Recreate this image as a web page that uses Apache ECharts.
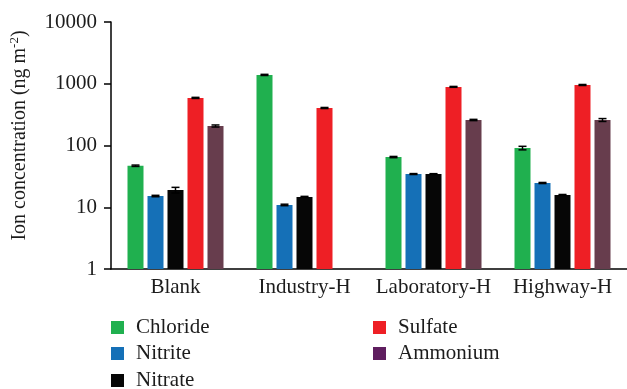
<!DOCTYPE html>
<html>
<head>
<meta charset="utf-8">
<script src="https://cdn.jsdelivr.net/npm/echarts@6/dist/echarts.min.js"></script>
<style>
  html, body { margin: 0; padding: 0; background: #fff; }
  #chart { width: 627px; height: 389px; }
</style>
</head>
<body>
<div id="chart"></div>
<script>
// Sampling sites
const categories = ['Blank', 'Industry-H', 'Laboratory-H', 'Highway-H'];

// Mean ion concentrations (ng m-2) per site; '-' = not detected
const chloride = [47, 1390, 65, 91];
const nitrite  = [15.2, 10.9, 34.5, 24.7];
const nitrate  = [19.0, 14.7, 34.5, 15.8];
const sulfate  = [590, 405, 890, 955];
const ammonium = [207, '-', 259, 259];

// Standard deviations for the error bars
const chlorideErr = [1.2, 30, 1.5, 6];
const nitriteErr  = [0.4, 0.3, 0.6, 0.5];
const nitrateErr  = [2.0, 0.3, 0.5, 0.3];
const sulfateErr  = [12, 8, 15, 18];
const ammoniumErr = [8, 0, 6, 14];

const yTicks = [1, 10, 100, 1000, 10000];

const seriesDefs = [
  { name: 'Chloride', data: chloride, err: chlorideErr, color: '#20B04F' },
  { name: 'Nitrite',  data: nitrite,  err: nitriteErr,  color: '#1570B7' },
  { name: 'Nitrate',  data: nitrate,  err: nitrateErr,  color: '#060606' },
  { name: 'Sulfate',  data: sulfate,  err: sulfateErr,  color: '#EE1F25' },
  { name: 'Ammonium', data: ammonium, err: ammoniumErr, color: '#673D4D' }
];

const BAR_W = 16;
const BAR_STEP = 20;
const serif = '"Liberation Serif", "DejaVu Serif", serif';
const FS = 21;
const TEXT = '#1c1c1c';

const chart = echarts.init(document.getElementById('chart'), null, { renderer: 'canvas' });

const series = [];
seriesDefs.forEach((s) => {
  series.push({
    name: s.name,
    type: 'bar',
    data: s.data,
    barWidth: BAR_W,
    barGap: '25%',
    itemStyle: { color: s.color },
    z: 2
  });
});
// error bars drawn over each bar
seriesDefs.forEach((s, i) => {
  const errData = s.data.map((v, k) => v === '-' ? null : [k, v, s.err[k]]).filter(d => d);
  series.push({
    name: s.name + ' SD',
    type: 'custom',
    z: 5,
    silent: true,
    data: errData,
    renderItem: function (params, api) {
      const k = api.value(0), v = api.value(1), e = api.value(2);
      const c = api.coord([k, v]);
      const x = c[0] + (i - 2) * BAR_STEP;
      const hi = api.coord([k, v + e])[1];
      const lo = api.coord([k, Math.max(v - e, 0.0001)])[1];
      const cap = 4;
      const st = { stroke: '#000', lineWidth: 1.5 };
      return {
        type: 'group',
        children: [
          { type: 'line', shape: { x1: x, y1: hi, x2: x, y2: lo }, style: st },
          { type: 'line', shape: { x1: x - cap, y1: hi, x2: x + cap, y2: hi }, style: st },
          { type: 'line', shape: { x1: x - cap, y1: lo, x2: x + cap, y2: lo }, style: st }
        ]
      };
    }
  });
});

const legendText = { fontFamily: serif, fontSize: FS, color: TEXT, padding: [0, 0, 0, 7] };
function oneLegend(item, left, top) {
  return {
    orient: 'horizontal', left: left, top: top,
    itemWidth: 13, itemHeight: 13, icon: 'rect', padding: 0,
    textStyle: legendText,
    data: [item]
  };
}

chart.setOption({
  animation: false,
  grid: { left: 111, right: -4, top: 22, bottom: 120, containLabel: false },
  legend: [
    oneLegend('Chloride', 111, 317),
    oneLegend('Nitrite', 111, 343),
    oneLegend('Nitrate', 111, 370),
    oneLegend('Sulfate', 373, 317),
    oneLegend({ name: 'Ammonium', itemStyle: { color: '#5F1E5F' } }, 373, 343)
  ],
  xAxis: {
    type: 'category',
    data: categories,
    axisLine: { lineStyle: { color: '#000', width: 1.5 } },
    axisTick: { show: false },
    axisLabel: { fontFamily: serif, fontSize: FS, color: TEXT, margin: 8, interval: 0 }
  },
  yAxis: {
    type: 'log',
    logBase: 10,
    min: yTicks[0],
    max: yTicks[yTicks.length - 1],
    axisLine: { show: true, lineStyle: { color: '#000', width: 1.5 } },
    axisTick: { show: true, inside: false, length: 7, lineStyle: { color: '#000', width: 1.5 } },
    splitLine: { show: false },
    minorTick: { show: false },
    axisLabel: {
      fontFamily: serif, fontSize: FS, color: TEXT, margin: 14,
      formatter: (v) => String(Math.round(v))
    },
    name: '{a|Ion concentration (ng m}{s|-2}{a|)}',
    nameLocation: 'middle',
    nameGap: 80,
    nameRotate: 90,
    nameTextStyle: {
      padding: [0, 0, 0, 20],
      rich: {
        a: { fontFamily: serif, fontSize: 20, color: TEXT },
        s: { fontFamily: serif, fontSize: 13, color: TEXT, verticalAlign: 'top', padding: [0, 0, 10, 0] }
      }
    }
  },
  series: series
});
</script>
</body>
</html>
